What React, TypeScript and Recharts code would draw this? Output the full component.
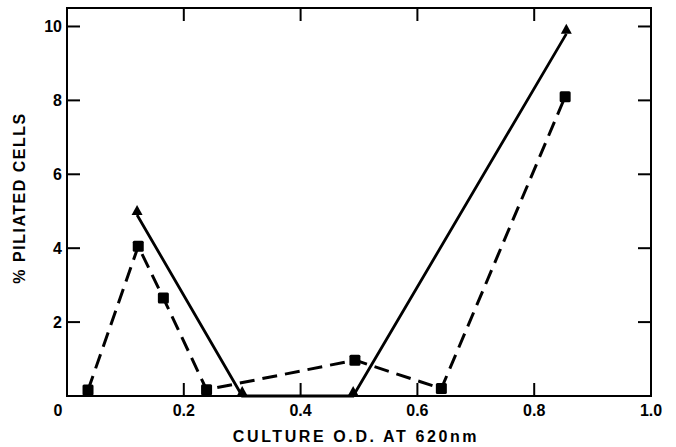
import React from 'react';
import { LineChart, Line, XAxis, YAxis, ReferenceArea } from 'recharts';

const triangleX = [0.12, 0.30, 0.49, 0.855];
const triangleY = [4.9, 0, 0, 9.8];
const squareX = [0.036, 0.122, 0.165, 0.239, 0.493, 0.641, 0.853];
const squareY = [0.16, 4.05, 2.65, 0.17, 0.97, 0.2, 8.1];
const xTicks = [0, 0.2, 0.4, 0.6, 0.8, 1.0];
const xTickLabels = ['0', '0.2', '0.4', '0.6', '0.8', '1.0'];
const yTicks = [2, 4, 6, 8, 10];
const yTickLabels = ['2', '4', '6', '8', '10'];

const triangleData = triangleX.map((x, i) => ({ x, y: triangleY[i] }));
const squareData = squareX.map((x, i) => ({ x, y: squareY[i] }));

const W = 676;
const H = 447;
const M = { top: 8, right: 25, bottom: 0, left: 0 };
const YW = 67;
const XH = 51;
const PLOT_TOP = M.top;
const PLOT_RIGHT = W - M.right;
const TICK = 13;
const FONT = '"Liberation Sans", Arial, sans-serif';

const XTick = (props: any) => {
  const { x, y, payload } = props;
  const idx = xTicks.indexOf(payload.value);
  const label = idx >= 0 ? xTickLabels[idx] : String(payload.value);
  const dx = payload.value === 0 ? -9 : 0;
  return (
    <g>
      <line x1={x} y1={y} x2={x} y2={y - TICK} stroke="#000" strokeWidth={2} />
      <line x1={x} y1={PLOT_TOP} x2={x} y2={PLOT_TOP + TICK} stroke="#000" strokeWidth={2} />
      <text x={x + dx} y={y + 14} textAnchor="middle" dominantBaseline="central" fontFamily={FONT} fontWeight="bold" fontSize={16} fill="#000">
        {label}
      </text>
    </g>
  );
};

const YTick = (props: any) => {
  const { x, y, payload } = props;
  const idx = yTicks.indexOf(payload.value);
  const label = idx >= 0 ? yTickLabels[idx] : String(payload.value);
  return (
    <g>
      <line x1={x} y1={y} x2={x + TICK} y2={y} stroke="#000" strokeWidth={2} />
      <line x1={PLOT_RIGHT - TICK} y1={y} x2={PLOT_RIGHT} y2={y} stroke="#000" strokeWidth={2} />
      <text x={x - 5} y={y} textAnchor="end" dominantBaseline="central" fontFamily={FONT} fontWeight="bold" fontSize={16} fill="#000">
        {label}
      </text>
    </g>
  );
};

const TriangleDot = (props: any) => {
  const { cx, cy, index } = props;
  if (cx == null || cy == null) return <g key={`t${index}`} />;
  return (
    <polygon
      key={`t${index}`}
      points={`${cx},${cy - 10} ${cx - 5.5},${cy} ${cx + 5.5},${cy}`}
      fill="#000"
      stroke="none"
    />
  );
};

const SquareDot = (props: any) => {
  const { cx, cy, index } = props;
  if (cx == null || cy == null) return <g key={`s${index}`} />;
  return <rect key={`s${index}`} x={cx - 5.5} y={cy - 5.5} width={11} height={11} rx={1.5} fill="#000" />;
};

export default function App() {
  return (
    <div style={{ position: 'absolute', left: 0, top: 0, background: '#fff' }}>
      <LineChart width={W} height={H} margin={M}>
        <XAxis
          dataKey="x"
          type="number"
          domain={[0, 1]}
          ticks={xTicks}
          height={XH}
          tickSize={0}
          tickMargin={0}
          tickLine={false}
          axisLine={false}
          tick={<XTick />}
          allowDecimals
          label={{
            value: 'CULTURE O.D. AT 620nm',
            content: () => (
              <text x={356} y={436} textAnchor="middle" dominantBaseline="central" fontFamily={FONT} fontWeight="bold" fontSize={16} letterSpacing={2.6} fill="#000">
                CULTURE O.D. AT 620nm
              </text>
            ),
          }}
        />
        <YAxis
          dataKey="y"
          type="number"
          domain={[0, 10.5]}
          ticks={yTicks}
          width={YW}
          tickSize={0}
          tickMargin={0}
          tickLine={false}
          axisLine={false}
          tick={<YTick />}
          label={{
            value: '% PILIATED CELLS',
            content: () => (
              <text x={19} y={198} transform="rotate(-90 19 198)" textAnchor="middle" dominantBaseline="central" fontFamily={FONT} fontWeight="bold" fontSize={16} letterSpacing={1.5} fill="#000">
                % PILIATED CELLS
              </text>
            ),
          }}
        />
        <ReferenceArea x1={0} x2={1} y1={0} y2={10.5} fill="none" fillOpacity={0} stroke="#000" strokeWidth={2} ifOverflow="visible" />
        <Line
          data={squareData}
          dataKey="y"
          type="linear"
          stroke="#000"
          strokeWidth={3}
          strokeDasharray="15 8"
          dot={SquareDot}
          activeDot={false}
          isAnimationActive={false}
        />
        <Line
          data={triangleData}
          dataKey="y"
          type="linear"
          stroke="#000"
          strokeWidth={2.8}
          dot={TriangleDot}
          activeDot={false}
          isAnimationActive={false}
        />
      </LineChart>
    </div>
  );
}
